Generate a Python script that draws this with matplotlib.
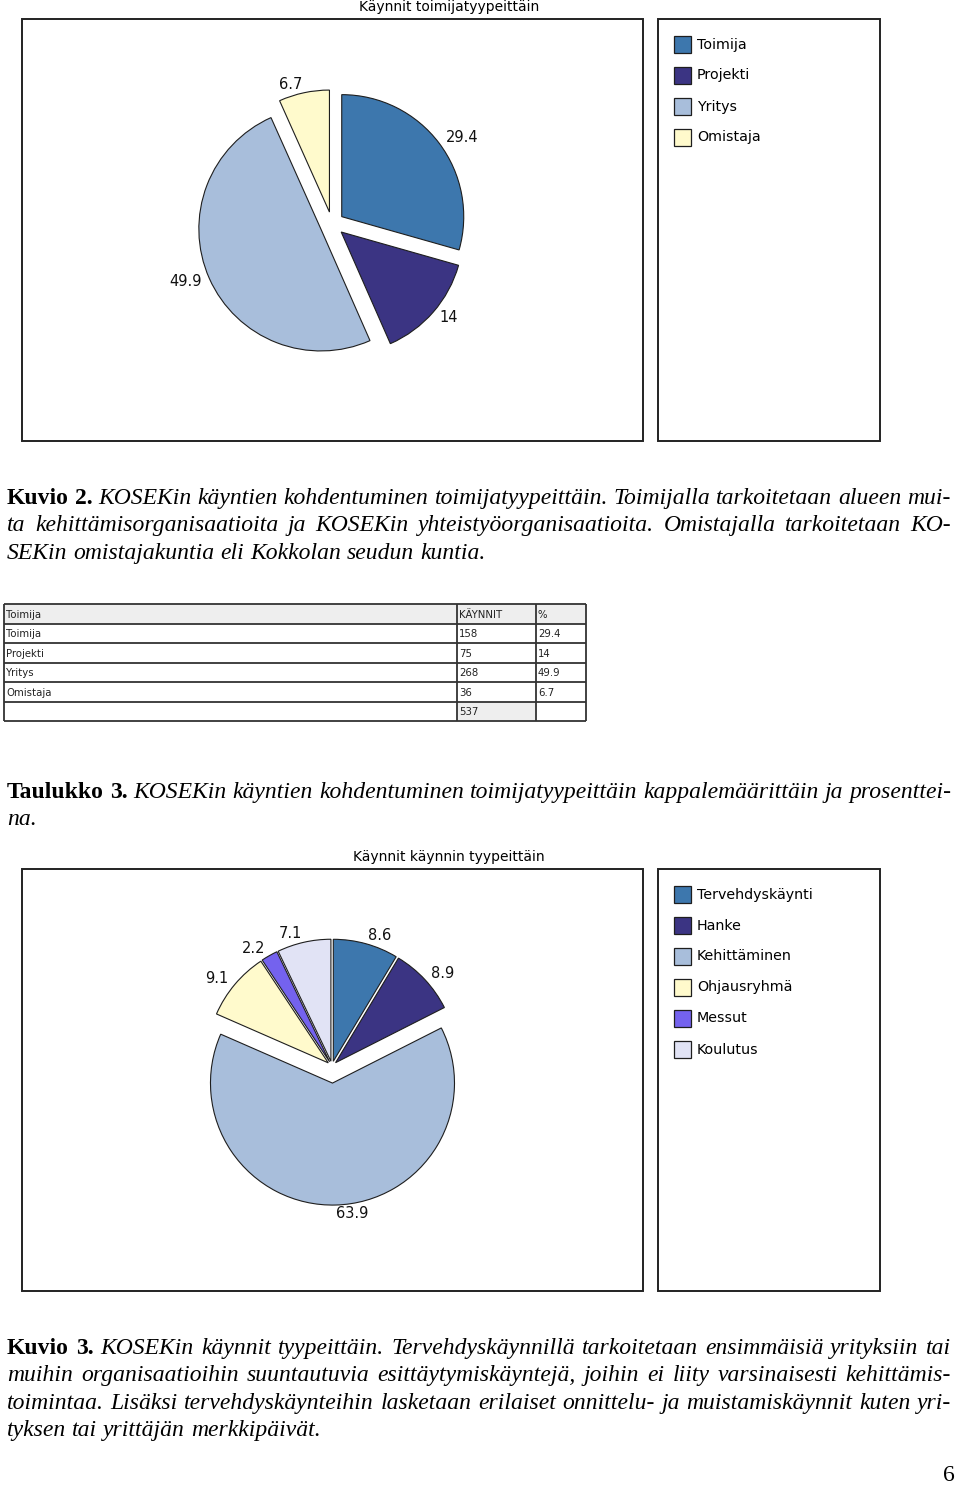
import matplotlib
matplotlib.use("Agg")
import matplotlib.pyplot as plt
from matplotlib.patches import Rectangle

# ---- data -------------------------------------------------------------
toimija_labels = ["Toimija", "Projekti", "Yritys", "Omistaja"]
toimija_pct = [29.4, 14, 49.9, 6.7]
toimija_counts = [158, 75, 268, 36]
toimija_total = 537

tyyppi_labels = ["Tervehdyskäynti", "Hanke", "Kehittäminen", "Ohjausryhmä", "Messut", "Koulutus"]
tyyppi_pct = [8.6, 8.9, 63.9, 9.1, 2.2, 7.1]

table_header = ["Toimija", "KÄYNNIT", "%"]

caption_kuvio2 = [
    [("Kuvio 2.", True), ("KOSEKin käyntien kohdentuminen toimijatyypeittäin. Toimijalla tarkoitetaan alueen mui-", False)],
    [("ta kehittämisorganisaatioita ja KOSEKin yhteistyöorganisaatioita. Omistajalla tarkoitetaan KO-", False)],
    [("SEKin omistajakuntia eli Kokkolan seudun kuntia.", False)],
]
caption_taulukko3 = [
    [("Taulukko 3.", True), ("KOSEKin käyntien kohdentuminen toimijatyypeittäin kappalemäärittäin ja prosenttei-", False)],
    [("na.", False)],
]
caption_kuvio3 = [
    [("Kuvio 3.", True), ("KOSEKin käynnit tyypeittäin. Tervehdyskäynnillä tarkoitetaan ensimmäisiä yrityksiin tai", False)],
    [("muihin organisaatioihin suuntautuvia esittäytymiskäyntejä, joihin ei liity varsinaisesti kehittämis-", False)],
    [("toimintaa. Lisäksi tervehdyskäynteihin lasketaan erilaiset onnittelu- ja muistamiskäynnit kuten yri-", False)],
    [("tyksen tai yrittäjän merkkipäivät.", False)],
]

# ---- style -------------------------------------------------------------
C_BLUE = "#3d77ad"
C_INDIGO = "#3b3483"
C_LIGHT = "#a8bedb"
C_CREAM = "#fffacc"
C_VIOLET = "#7462ee"
C_LAVENDER = "#e1e3f5"
EDGE = "#1e1e1e"

toimija_colors = [C_BLUE, C_INDIGO, C_LIGHT, C_CREAM]
tyyppi_colors = [C_BLUE, C_INDIGO, C_LIGHT, C_CREAM, C_VIOLET, C_LAVENDER]

CHART_FONT = "DejaVu Sans"
SERIF = "Liberation Serif"
CAP_SIZE = 17.0

W, H = 960, 1487
R = 122  # pie radius in pixels

fig = plt.figure(figsize=(W / 100, H / 100), dpi=100)
page = fig.add_axes([0, 0, 1, 1])
page.set_xlim(0, W)
page.set_ylim(H, 0)
page.axis("off")
renderer = fig.canvas.get_renderer()


def draw_pie(cx, cy, values, colors, explode):
    size = 440
    ax = fig.add_axes([(cx - size / 2) / W, 1 - (cy + size / 2) / H, size / W, size / H])
    ax.pie(
        values,
        colors=colors,
        explode=explode,
        startangle=90,
        counterclock=False,
        labels=["{0:g}".format(v) for v in values],
        labeldistance=1.07,
        wedgeprops=dict(edgecolor=EDGE, linewidth=0.8),
        textprops=dict(fontsize=10.5, family=CHART_FONT, color="#111111"),
        frame=False,
    )
    lim = size / 2 / R
    ax.set_xlim(-lim, lim)
    ax.set_ylim(-lim, lim)
    ax.set_xticks([])
    ax.set_yticks([])
    return ax


def draw_chart_frame(top, title, names, colors):
    page.add_patch(Rectangle((22, top), 621, 422, fill=False, ec="#222222", lw=1.4))
    page.add_patch(Rectangle((658, top), 222, 422, fill=False, ec="#222222", lw=1.4))
    page.text(449, top - 12, title, ha="center", va="center", fontsize=10, family=CHART_FONT)
    for i, (name, color) in enumerate(zip(names, colors)):
        y = top + 17 + 31 * i
        page.add_patch(Rectangle((674, y), 17, 17, fc=color, ec=EDGE, lw=0.9))
        page.text(697, y + 8.5, name, ha="left", va="center", fontsize=10.3, family=CHART_FONT)


def draw_paragraph(lines, first_baseline, line_gap=27.3, x0=7, x1=951):
    space = CAP_SIZE * 100 / 72 * 0.25
    for li, runs in enumerate(lines):
        y = first_baseline + li * line_gap
        artists = []
        for txt, bold in runs:
            for word in txt.split():
                t = page.text(
                    0, y, word, ha="left", va="baseline", fontsize=CAP_SIZE, family=SERIF,
                    fontweight="bold" if bold else "normal",
                    fontstyle="normal" if bold else "italic",
                )
                artists.append(t)
        widths = [a.get_window_extent(renderer).width for a in artists]
        last = li == len(lines) - 1
        if not last and len(artists) > 1:
            gap = (x1 - x0 - sum(widths)) / (len(artists) - 1)
        else:
            gap = space
        x = x0
        for a, wd in zip(artists, widths):
            a.set_x(x)
            x += wd + gap


# ---- chart 1 -------------------------------------------------------------
draw_chart_frame(19, "Käynnit toimijatyypeittäin", toimija_labels, toimija_colors)
draw_pie(332, 224, toimija_pct, toimija_colors, [0.1, 0.1, 0.1, 0.1])

draw_paragraph(caption_kuvio2, 504)

# ---- table -------------------------------------------------------------
col_x = [4, 457, 536, 586]
row_top = 604
row_h = 19.5
rows = [table_header] + [[n, str(c), "{0:g}".format(p)] for n, c, p in zip(toimija_labels, toimija_counts, toimija_pct)]
rows.append(["", str(toimija_total), ""])
n_rows = len(rows)

page.add_patch(Rectangle((col_x[0], row_top), col_x[-1] - col_x[0], row_h, fc="#eeeeee", ec="none"))
page.add_patch(Rectangle((col_x[1], row_top + row_h * (n_rows - 1)), col_x[2] - col_x[1], row_h, fc="#eeeeee", ec="none"))
for r in range(n_rows + 1):
    y = row_top + r * row_h
    page.plot([col_x[0], col_x[-1]], [y, y], color="#333333", lw=1.3, solid_capstyle="butt")
for x in col_x:
    page.plot([x, x], [row_top, row_top + n_rows * row_h], color="#333333", lw=1.3, solid_capstyle="butt")
for r, row in enumerate(rows):
    yc = row_top + r * row_h + row_h / 2 + 1
    for c, val in enumerate(row):
        page.text(col_x[c] + 2, yc, val, ha="left", va="center", fontsize=7.3, family=CHART_FONT, color="#222222")

draw_paragraph(caption_taulukko3, 798)

# ---- chart 2 -------------------------------------------------------------
draw_chart_frame(869, "Käynnit käynnin tyypeittäin", tyyppi_labels, tyyppi_colors)
draw_pie(332, 1066, tyyppi_pct, tyyppi_colors, [0.04, 0.04, 0.14, 0.04, 0.04, 0.04])

draw_paragraph(caption_kuvio3, 1354)

page.text(955, 1481, "6", ha="right", va="baseline", fontsize=CAP_SIZE, family=SERIF)

fig.savefig("out.png", dpi=100)
